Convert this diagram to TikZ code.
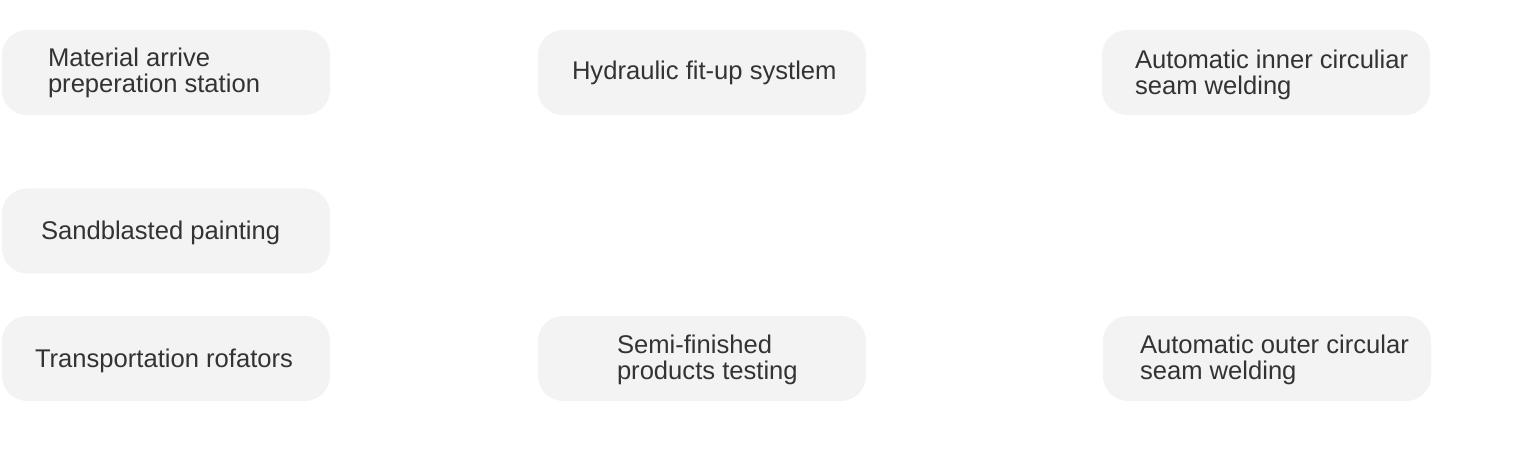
\documentclass[tikz,border=0pt]{standalone}
\usepackage{fontspec}
\setmainfont{Liberation Sans}
\usetikzlibrary{positioning}
\definecolor{boxgray}{HTML}{F3F3F3}
\definecolor{txtgray}{HTML}{333333}

\begin{document}
\begin{tikzpicture}[x=1pt,y=-1pt,
  stepbox/.style={fill=boxgray,draw=none,rounded corners=25pt,minimum width=328pt,minimum height=85pt,inner sep=0pt},
  steptxt/.style={anchor=west,align=left,text=txtgray,font=\fontsize{25.6}{26}\selectfont,inner sep=0pt}]
\useasboundingbox (0,0) rectangle (1516,449);
\node[stepbox] (mat) at (166,72.5) {};
\node[stepbox] (hyd) at (702,72.5) {};
\node[stepbox] (inn) at (1266,72.5) {};
\node[stepbox] (sand) at (166,231) {};
\node[stepbox] (tra) at (166,358.5) {};
\node[stepbox] (semi) at (702,358.5) {};
\node[stepbox] (out) at (1267,358.5) {};
\node[steptxt] (matT) at ([xshift=46pt,yshift=0pt]mat.west) {Material arrive\\preperation station};
\node[steptxt] (hydT) at ([xshift=34pt,yshift=0pt]hyd.west) {Hydraulic fit-up systlem};
\node[steptxt] (innT) at ([xshift=33pt,yshift=-2pt]inn.west) {Automatic inner circuliar\\seam welding};
\node[steptxt] (sandT) at ([xshift=39pt,yshift=-2pt]sand.west) {Sandblasted painting};
\node[steptxt] (traT) at ([xshift=33pt,yshift=-2pt]tra.west) {Transportation rofators};
\node[steptxt] (semiT) at ([xshift=79pt,yshift=-1pt]semi.west) {Semi-finished\\products testing};
\node[steptxt] (outT) at ([xshift=37pt,yshift=-1pt]out.west) {Automatic outer circular\\seam welding};
\end{tikzpicture}
\end{document}
